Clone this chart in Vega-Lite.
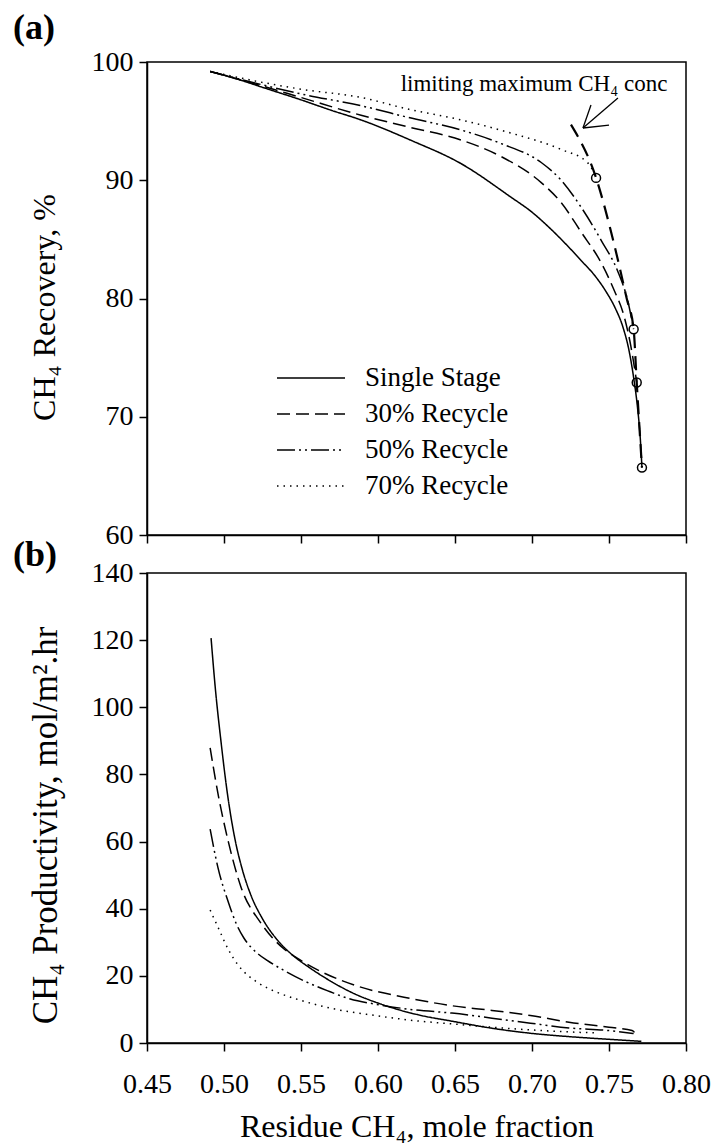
{
  "$schema": "https://vega.github.io/schema/vega-lite/v6.json",
  "padding": {"left": 12, "top": 9, "right": 5, "bottom": 5},
  "background": "white",
  "config": {
    "font": "Liberation Serif",
    "view": {"stroke": "black", "strokeWidth": 1.5},
    "axis": {
      "domainColor": "black", "domainWidth": 1.5,
      "tickColor": "black", "tickWidth": 1.5, "tickSize": 8,
      "labelFont": "Liberation Serif", "labelFontSize": 28, "labelColor": "black", "labelFlush": false,
      "titleFont": "Liberation Serif", "titleFontSize": 32, "titleFontWeight": "normal", "titleColor": "black",
      "grid": false
    },
    "concat": {"spacing": -14}
  },
  "resolve": {"legend": {"strokeDash": "independent"}},
  "datasets": {
    "recovery": [
      {"series": "Single Stage", "x": 0.491, "y": 99.2},
      {"series": "Single Stage", "x": 0.51, "y": 98.5},
      {"series": "Single Stage", "x": 0.524, "y": 97.9},
      {"series": "Single Stage", "x": 0.55, "y": 96.8},
      {"series": "Single Stage", "x": 0.57, "y": 95.9},
      {"series": "Single Stage", "x": 0.589, "y": 95.1},
      {"series": "Single Stage", "x": 0.621, "y": 93.4},
      {"series": "Single Stage", "x": 0.654, "y": 91.4},
      {"series": "Single Stage", "x": 0.686, "y": 88.6},
      {"series": "Single Stage", "x": 0.7, "y": 87.3},
      {"series": "Single Stage", "x": 0.712, "y": 85.9},
      {"series": "Single Stage", "x": 0.722, "y": 84.6},
      {"series": "Single Stage", "x": 0.732, "y": 83.2},
      {"series": "Single Stage", "x": 0.741, "y": 81.9},
      {"series": "Single Stage", "x": 0.748, "y": 80.6},
      {"series": "Single Stage", "x": 0.754, "y": 79.2},
      {"series": "Single Stage", "x": 0.759, "y": 77.6},
      {"series": "Single Stage", "x": 0.763, "y": 75.6},
      {"series": "Single Stage", "x": 0.766, "y": 73.3},
      {"series": "Single Stage", "x": 0.7685, "y": 70.8},
      {"series": "Single Stage", "x": 0.7703, "y": 68.2},
      {"series": "Single Stage", "x": 0.7714, "y": 65.7},
      {"series": "30% Recycle", "x": 0.491, "y": 99.2},
      {"series": "30% Recycle", "x": 0.524, "y": 98.0},
      {"series": "30% Recycle", "x": 0.55, "y": 97.0},
      {"series": "30% Recycle", "x": 0.589, "y": 95.5},
      {"series": "30% Recycle", "x": 0.62, "y": 94.5},
      {"series": "30% Recycle", "x": 0.654, "y": 93.4},
      {"series": "30% Recycle", "x": 0.68, "y": 92.0},
      {"series": "30% Recycle", "x": 0.706, "y": 89.8},
      {"series": "30% Recycle", "x": 0.719, "y": 88.1},
      {"series": "30% Recycle", "x": 0.732, "y": 85.6},
      {"series": "30% Recycle", "x": 0.745, "y": 83.0},
      {"series": "30% Recycle", "x": 0.753, "y": 80.8},
      {"series": "30% Recycle", "x": 0.76, "y": 78.4},
      {"series": "30% Recycle", "x": 0.764, "y": 76.1},
      {"series": "30% Recycle", "x": 0.768, "y": 72.9},
      {"series": "50% Recycle", "x": 0.491, "y": 99.2},
      {"series": "50% Recycle", "x": 0.524, "y": 98.1},
      {"series": "50% Recycle", "x": 0.55, "y": 97.3},
      {"series": "50% Recycle", "x": 0.589, "y": 96.3},
      {"series": "50% Recycle", "x": 0.62, "y": 95.3},
      {"series": "50% Recycle", "x": 0.654, "y": 94.25},
      {"series": "50% Recycle", "x": 0.68, "y": 93.1},
      {"series": "50% Recycle", "x": 0.706, "y": 91.5},
      {"series": "50% Recycle", "x": 0.719, "y": 90.0},
      {"series": "50% Recycle", "x": 0.732, "y": 87.7},
      {"series": "50% Recycle", "x": 0.745, "y": 84.9},
      {"series": "50% Recycle", "x": 0.756, "y": 82.2},
      {"series": "50% Recycle", "x": 0.762, "y": 79.9},
      {"series": "50% Recycle", "x": 0.766, "y": 77.4},
      {"series": "70% Recycle", "x": 0.491, "y": 99.2},
      {"series": "70% Recycle", "x": 0.524, "y": 98.3},
      {"series": "70% Recycle", "x": 0.55, "y": 97.7},
      {"series": "70% Recycle", "x": 0.589, "y": 97.0},
      {"series": "70% Recycle", "x": 0.62, "y": 96.0},
      {"series": "70% Recycle", "x": 0.654, "y": 95.1},
      {"series": "70% Recycle", "x": 0.686, "y": 94.0},
      {"series": "70% Recycle", "x": 0.719, "y": 92.6},
      {"series": "70% Recycle", "x": 0.736, "y": 91.5},
      {"series": "70% Recycle", "x": 0.742, "y": 90.2}
    ],
    "limit": [
      {"x": 0.7253, "y": 94.7},
      {"x": 0.7416, "y": 90.2},
      {"x": 0.7535, "y": 84.5},
      {"x": 0.7615, "y": 80.0},
      {"x": 0.766, "y": 77.4},
      {"x": 0.768, "y": 72.9},
      {"x": 0.7714, "y": 65.7}
    ],
    "ends": [
      {"series": "70% Recycle", "x": 0.7416, "y": 90.2},
      {"series": "50% Recycle", "x": 0.766, "y": 77.4},
      {"series": "30% Recycle", "x": 0.768, "y": 72.9},
      {"series": "Single Stage", "x": 0.7714, "y": 65.7}
    ],
    "note": [
      {"x": 0.7013, "y": 97.57, "label": "limiting maximum CH₄ conc"}
    ],
    "arrow": [
      {"x": 0.7558, "y": 96.96, "x2": 0.7331, "y2": 94.42},
      {"x": 0.7331, "y": 94.42, "x2": 0.7383, "y2": 96.36},
      {"x": 0.7331, "y": 94.42, "x2": 0.75, "y2": 94.67}
    ],
    "productivity": [
      {"series": "Single Stage", "x": 0.4916, "y": 120.6},
      {"series": "Single Stage", "x": 0.4945, "y": 105.0},
      {"series": "Single Stage", "x": 0.498, "y": 90.0},
      {"series": "Single Stage", "x": 0.502, "y": 75.0},
      {"series": "Single Stage", "x": 0.507, "y": 61.0},
      {"series": "Single Stage", "x": 0.512, "y": 51.5},
      {"series": "Single Stage", "x": 0.5175, "y": 44.0},
      {"series": "Single Stage", "x": 0.525, "y": 37.0},
      {"series": "Single Stage", "x": 0.535, "y": 30.5},
      {"series": "Single Stage", "x": 0.545, "y": 26.0},
      {"series": "Single Stage", "x": 0.555, "y": 22.6},
      {"series": "Single Stage", "x": 0.565, "y": 19.6},
      {"series": "Single Stage", "x": 0.585, "y": 14.6},
      {"series": "Single Stage", "x": 0.6, "y": 11.9},
      {"series": "Single Stage", "x": 0.615, "y": 9.7},
      {"series": "Single Stage", "x": 0.628, "y": 8.2},
      {"series": "Single Stage", "x": 0.648, "y": 6.5},
      {"series": "Single Stage", "x": 0.674, "y": 4.4},
      {"series": "Single Stage", "x": 0.699, "y": 2.9},
      {"series": "Single Stage", "x": 0.724, "y": 1.9},
      {"series": "Single Stage", "x": 0.75, "y": 1.1},
      {"series": "Single Stage", "x": 0.771, "y": 0.5},
      {"series": "30% Recycle", "x": 0.491, "y": 87.9},
      {"series": "30% Recycle", "x": 0.496, "y": 74.5},
      {"series": "30% Recycle", "x": 0.503, "y": 59.6},
      {"series": "30% Recycle", "x": 0.511, "y": 46.5},
      {"series": "30% Recycle", "x": 0.524, "y": 35.7},
      {"series": "30% Recycle", "x": 0.539, "y": 28.0},
      {"series": "30% Recycle", "x": 0.547, "y": 25.4},
      {"series": "30% Recycle", "x": 0.555, "y": 23.2},
      {"series": "30% Recycle", "x": 0.562, "y": 21.5},
      {"series": "30% Recycle", "x": 0.585, "y": 17.2},
      {"series": "30% Recycle", "x": 0.623, "y": 13.1},
      {"series": "30% Recycle", "x": 0.648, "y": 11.1},
      {"series": "30% Recycle", "x": 0.674, "y": 9.7},
      {"series": "30% Recycle", "x": 0.699, "y": 8.2},
      {"series": "30% Recycle", "x": 0.724, "y": 6.2},
      {"series": "30% Recycle", "x": 0.75, "y": 4.7},
      {"series": "30% Recycle", "x": 0.765, "y": 3.7},
      {"series": "30% Recycle", "x": 0.768, "y": 2.3},
      {"series": "50% Recycle", "x": 0.491, "y": 63.7},
      {"series": "50% Recycle", "x": 0.496, "y": 52.4},
      {"series": "50% Recycle", "x": 0.503, "y": 41.7},
      {"series": "50% Recycle", "x": 0.508, "y": 35.5},
      {"series": "50% Recycle", "x": 0.513, "y": 31.2},
      {"series": "50% Recycle", "x": 0.518, "y": 28.3},
      {"series": "50% Recycle", "x": 0.522, "y": 26.6},
      {"series": "50% Recycle", "x": 0.528, "y": 24.6},
      {"series": "50% Recycle", "x": 0.539, "y": 21.6},
      {"series": "50% Recycle", "x": 0.552, "y": 18.5},
      {"series": "50% Recycle", "x": 0.567, "y": 15.6},
      {"series": "50% Recycle", "x": 0.582, "y": 13.1},
      {"series": "50% Recycle", "x": 0.598, "y": 11.6},
      {"series": "50% Recycle", "x": 0.623, "y": 9.9},
      {"series": "50% Recycle", "x": 0.648, "y": 8.9},
      {"series": "50% Recycle", "x": 0.674, "y": 7.4},
      {"series": "50% Recycle", "x": 0.699, "y": 5.9},
      {"series": "50% Recycle", "x": 0.724, "y": 4.5},
      {"series": "50% Recycle", "x": 0.75, "y": 3.7},
      {"series": "50% Recycle", "x": 0.766, "y": 2.8},
      {"series": "70% Recycle", "x": 0.491, "y": 39.6},
      {"series": "70% Recycle", "x": 0.496, "y": 34.6},
      {"series": "70% Recycle", "x": 0.503, "y": 27.7},
      {"series": "70% Recycle", "x": 0.509, "y": 23.3},
      {"series": "70% Recycle", "x": 0.513, "y": 21.2},
      {"series": "70% Recycle", "x": 0.522, "y": 18.0},
      {"series": "70% Recycle", "x": 0.535, "y": 15.0},
      {"series": "70% Recycle", "x": 0.547, "y": 13.1},
      {"series": "70% Recycle", "x": 0.572, "y": 10.1},
      {"series": "70% Recycle", "x": 0.598, "y": 8.2},
      {"series": "70% Recycle", "x": 0.623, "y": 6.7},
      {"series": "70% Recycle", "x": 0.648, "y": 5.7},
      {"series": "70% Recycle", "x": 0.674, "y": 4.7},
      {"series": "70% Recycle", "x": 0.699, "y": 3.9},
      {"series": "70% Recycle", "x": 0.724, "y": 3.3},
      {"series": "70% Recycle", "x": 0.742, "y": 3.0}
    ]
  },
  "vconcat": [
    {
      "title": {"text": "(a)", "anchor": "start", "frame": "group", "fontSize": 36, "fontWeight": "bold", "color": "black", "dx": -134, "offset": 1},
      "width": 539,
      "height": 473,
      "layer": [
        {
          "data": {"name": "recovery"},
          "mark": {"type": "line", "color": "black", "strokeWidth": 1.5, "interpolate": "monotone"},
          "encoding": {
            "x": {"field": "x", "type": "quantitative", "scale": {"domain": [0.45, 0.8], "nice": false, "zero": false},
                  "axis": {"values": [0.45, 0.5, 0.55, 0.6, 0.65, 0.7, 0.75, 0.8], "labels": false, "title": null}},
            "y": {"field": "y", "type": "quantitative", "scale": {"domain": [60, 100], "nice": false, "zero": false},
                  "axis": {"values": [60, 70, 80, 90, 100], "title": "CH₄ Recovery, %", "titleY": 245, "labelPadding": 6, "titlePadding": 30}},
            "strokeDash": {"field": "series", "type": "nominal",
              "sort": ["Single Stage", "30% Recycle", "50% Recycle", "70% Recycle"],
              "scale": {"domain": ["Single Stage", "30% Recycle", "50% Recycle", "70% Recycle"], "range": [[1, 0], [13, 6], [18, 4, 2, 4, 2, 4], [1.5, 5]]},
              "legend": {"title": null, "orient": "none", "legendX": 129, "legendY": 299, "padding": 0,
                "symbolType": "stroke", "symbolSize": 4624, "symbolStrokeWidth": 1.5, "symbolStrokeColor": "black",
                "labelFont": "Liberation Serif", "labelFontSize": 27, "labelColor": "black", "labelOffset": 19,
                "clipHeight": 34, "rowPadding": 2}}
          }
        },
        {
          "data": {"name": "limit"},
          "mark": {"type": "line", "color": "black", "strokeWidth": 2.2, "strokeDash": [14, 8], "interpolate": "monotone"},
          "encoding": {
            "x": {"field": "x", "type": "quantitative"},
            "y": {"field": "y", "type": "quantitative"}
          }
        },
        {
          "data": {"name": "ends"},
          "mark": {"type": "point", "shape": "circle", "filled": false, "color": "black", "strokeWidth": 1.5, "size": 80, "opacity": 1},
          "encoding": {
            "x": {"field": "x", "type": "quantitative"},
            "y": {"field": "y", "type": "quantitative"}
          }
        },
        {
          "data": {"name": "note"},
          "mark": {"type": "text", "fontSize": 23, "align": "center", "baseline": "alphabetic", "color": "black"},
          "encoding": {
            "x": {"field": "x", "type": "quantitative"},
            "y": {"field": "y", "type": "quantitative"},
            "text": {"field": "label"}
          }
        },
        {
          "data": {"name": "arrow"},
          "mark": {"type": "rule", "color": "black", "strokeWidth": 1.3},
          "encoding": {
            "x": {"field": "x", "type": "quantitative"},
            "y": {"field": "y", "type": "quantitative"},
            "x2": {"field": "x2"},
            "y2": {"field": "y2"}
          }
        }
      ]
    },
    {
      "title": {"text": "(b)", "anchor": "start", "frame": "group", "fontSize": 36, "fontWeight": "bold", "color": "black", "dx": -134, "offset": -15},
      "width": 539,
      "height": 470,
      "data": {"name": "productivity"},
      "mark": {"type": "line", "color": "black", "strokeWidth": 1.5, "interpolate": "monotone"},
      "encoding": {
        "x": {"field": "x", "type": "quantitative", "scale": {"domain": [0.45, 0.8], "nice": false, "zero": false},
              "axis": {"values": [0.45, 0.5, 0.55, 0.6, 0.65, 0.7, 0.75, 0.8], "format": ".2f", "title": "Residue CH₄, mole fraction", "labelPadding": 19, "titlePadding": 13}},
        "y": {"field": "y", "type": "quantitative", "scale": {"domain": [0, 140], "nice": false, "zero": false},
              "axis": {"values": [0, 20, 40, 60, 80, 100, 120, 140], "title": "CH₄ Productivity, mol/m².hr", "titleFontSize": 35, "titleY": 252, "labelPadding": 6, "titlePadding": 28}},
        "strokeDash": {"field": "series", "type": "nominal",
          "sort": ["Single Stage", "30% Recycle", "50% Recycle", "70% Recycle"],
          "scale": {"domain": ["Single Stage", "30% Recycle", "50% Recycle", "70% Recycle"], "range": [[1, 0], [13, 6], [18, 4, 2, 4, 2, 4], [1.5, 5]]},
          "legend": null}
      }
    }
  ]
}
